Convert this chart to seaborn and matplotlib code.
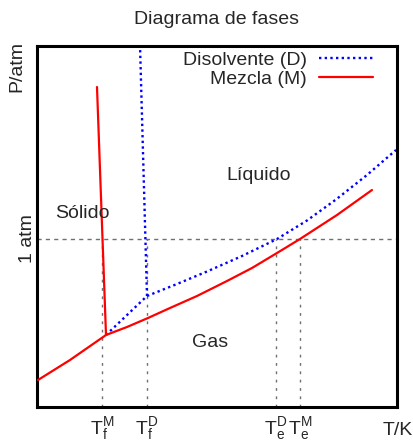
import matplotlib
matplotlib.use("Agg")
import matplotlib.pyplot as plt
import seaborn as sns
from matplotlib.lines import Line2D

# curves (arbitrary units)
sub_T = [1, 33, 69]
sub_P = [27, 47, 72]

melt_M_T = [69, 60]
melt_M_P = [72, 320]
vap_M_T = [69, 90, 111, 133, 160, 190, 215, 240, 263, 300, 335]
vap_M_P = [72, 80, 89, 99, 111, 126, 139, 154, 168, 192, 217]

sub_D_T = [69, 110]
sub_D_P = [72, 111]
melt_D_T = [110, 103]
melt_D_P = [111, 362]
vap_D_T = [110, 140, 170, 205, 240, 270, 299, 330, 359]
vap_D_P = [111, 123, 135.5, 151, 168, 186.5, 207.5, 232, 257]

P_1atm = 168
temp_ticks = [65, 110, 239, 263]
temp_labels = [r"$\mathregular{T_f^M}$", r"$\mathregular{T_f^D}$",
               r"$\mathregular{T_e^D}$", r"$\mathregular{T_e^M}$"]

sns.set_style("white")
plt.rcParams["font.family"] = ["Liberation Sans", "DejaVu Sans"]
plt.rcParams["font.size"] = 14

fig = plt.figure(figsize=(4.14, 4.44), dpi=100)
ax = fig.add_axes([37 / 414, 37 / 444, 360 / 414, 361 / 444])

blue = "#0000ff"
red = "#ff0000"
grey = "#707070"
dotted = (0, (1, 1.4))

# reference lines
ax.axhline(P_1atm, color=grey, lw=1, ls=(0, (3, 3)), zorder=1)
ax.vlines(temp_ticks, 0, P_1atm, color=grey, lw=1, ls=(0, (2, 4)), zorder=1)

# solvent
for T, P in [(sub_D_T, sub_D_P), (melt_D_T, melt_D_P), (vap_D_T, vap_D_P)]:
    sns.lineplot(x=T, y=P, sort=False, estimator=None, ax=ax,
                 color=blue, lw=1.7, linestyle=dotted, zorder=2)

# mixture
for T, P in [(sub_T, sub_P), (melt_M_T, melt_M_P), (vap_M_T, vap_M_P)]:
    sns.lineplot(x=T, y=P, sort=False, estimator=None, ax=ax,
                 color=red, lw=1.6, zorder=3)

ax.set_xlim(0, 360)
ax.set_ylim(0, 361)
ax.set_xticks(temp_ticks)
ax.set_xticklabels(temp_labels)
ax.set_yticks([P_1atm])
ax.set_yticklabels(["1 atm"], rotation=90, va="center")
ax.tick_params(length=0, labelsize=14)
ax.tick_params(axis="x", pad=6)
ax.tick_params(axis="y", pad=1)
for s in ax.spines.values():
    s.set_visible(True)
    s.set_linewidth(2.2)
    s.set_color("black")

ax.text(45, 194, "Sólido", ha="center", va="center", fontsize=14)
ax.text(222, 231, "Líquido", ha="center", va="center", fontsize=14)
ax.text(173, 65, "Gas", ha="center", va="center", fontsize=14)

ax.set_title("Diagrama de fases", fontsize=14, pad=16)
fig.text(17 / 414, 1 - 66 / 444, "P/atm", rotation=90, ha="center", va="center", fontsize=14)
fig.text(398 / 414, 1 - 430 / 444, "T/K", ha="center", va="center", fontsize=14)

handles = [Line2D([], [], color=blue, lw=1.7, linestyle=dotted),
           Line2D([], [], color=red, lw=1.6)]
ax.legend(handles, ["Disolvente (D)", "Mezcla (M)"], loc="upper right",
          bbox_to_anchor=(0.933, 0.985), frameon=False, markerfirst=False,
          borderpad=0, borderaxespad=0, handlelength=2.75, handletextpad=0.65,
          labelspacing=0.05, fontsize=14)

fig.savefig("out.png", dpi=100)
